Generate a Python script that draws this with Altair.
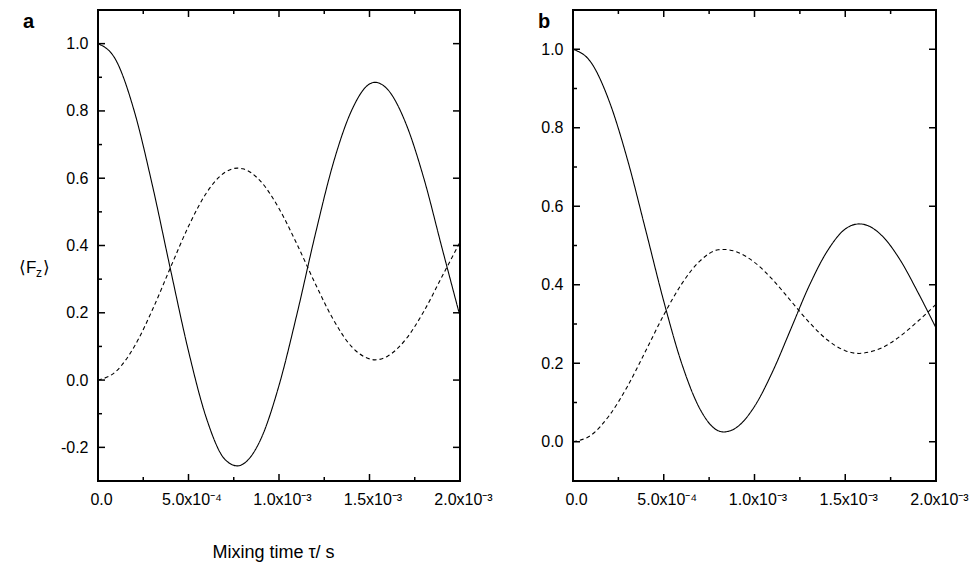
import altair as alt
import pandas as pd

# ---------------- data ----------------
t_a = [0, 1e-4, 2e-4, 3e-4, 4e-4, 5e-4, 6e-4, 7e-4, 7.7e-4, 8e-4, 9e-4, 1.0e-3,
       1.1e-3, 1.2e-3, 1.3e-3, 1.4e-3, 1.5e-3, 1.53e-3, 1.6e-3, 1.7e-3, 1.8e-3, 1.9e-3, 2.0e-3]
solid_a = [1.0, 0.95, 0.80, 0.58, 0.33, 0.086, -0.115, -0.235, -0.255, -0.25, -0.175, -0.016,
           0.198, 0.432, 0.645, 0.80, 0.88, 0.885, 0.864, 0.764, 0.60, 0.394, 0.19]
dashed_a = [0.0, 0.026, 0.099, 0.208, 0.334, 0.457, 0.557, 0.617, 0.63, 0.628, 0.59, 0.51,
            0.403, 0.287, 0.18, 0.10, 0.063, 0.06, 0.071, 0.121, 0.204, 0.307, 0.41]

t_b = [0, 1e-4, 2e-4, 3e-4, 4e-4, 5e-4, 6e-4, 7e-4, 8e-4, 8.3e-4, 9e-4, 1.0e-3,
       1.1e-3, 1.2e-3, 1.3e-3, 1.4e-3, 1.5e-3, 1.576e-3, 1.6e-3, 1.7e-3, 1.8e-3, 1.9e-3, 2.0e-3]
solid_b = [1.0, 0.966, 0.867, 0.719, 0.54, 0.358, 0.198, 0.083, 0.028, 0.025, 0.036, 0.09,
           0.179, 0.287, 0.396, 0.485, 0.542, 0.555, 0.554, 0.526, 0.465, 0.381, 0.29]
dashed_b = [0.0, 0.017, 0.067, 0.141, 0.231, 0.323, 0.403, 0.461, 0.489, 0.49, 0.484, 0.457,
            0.413, 0.359, 0.305, 0.26, 0.232, 0.225, 0.226, 0.239, 0.268, 0.307, 0.35]

x_major = [0, 5e-4, 1e-3, 1.5e-3, 2e-3]
x_minor = [2.5e-4, 7.5e-4, 1.25e-3, 1.75e-3]
x_labels = ["0.0", "5.0x10\u207b\u2074", "1.0x10\u207b\u00b3", "1.5x10\u207b\u00b3", "2.0x10\u207b\u00b3"]

ya_major = [-0.2, 0.0, 0.2, 0.4, 0.6, 0.8, 1.0]
ya_minor = [-0.1, 0.1, 0.3, 0.5, 0.7, 0.9]
yb_major = [0.0, 0.2, 0.4, 0.6, 0.8, 1.0]
yb_minor = [0.1, 0.3, 0.5, 0.7, 0.9]
ya_domain = [-0.3, 1.1]
yb_domain = [-0.1, 1.1]
x_domain = [0, 2e-3]

x_title = "Mixing time \u03c4/ s"
panel_letters = ["a", "b"]
ylab_parts = ["\u27e8F", "z", "\u27e9"]

FONT = "Liberation Sans"
W_A, W_B, H = 362, 363, 471
MAJ, MIN = 7, 4


def curves_df(t, s, d):
    return pd.concat([
        pd.DataFrame({"t": t, "v": s, "series": "solid"}),
        pd.DataFrame({"t": t, "v": d, "series": "dashed"}),
    ])


def panel(t, s, d, ydom, ymaj, ymin, W, letter, with_title, letter_dx):
    xs = alt.Scale(domain=x_domain, nice=False, zero=False)
    ys = alt.Scale(domain=ydom, nice=False, zero=False)
    lab_expr = "[" + ",".join("'%s'" % l for l in x_labels) + "][round(datum.value/0.0005)]"
    xaxis_kw = dict(values=x_major, labelExpr=lab_expr, ticks=False, domain=False, grid=False,
                    labelFont=FONT, labelFontSize=16, labelColor="black", labelPadding=10,
                    labelFlush=False, labelOverlap=False, labelOffset=3)
    if with_title:
        xaxis_kw.update(title=x_title, titleFont=FONT, titleFontSize=18, titleFontWeight="normal",
                        titleColor="black", titleX=175, titleY=76, titleBaseline="alphabetic",
                        titleAnchor="start", titleAlign="center")
    else:
        xaxis_kw.update(title=None)
    xaxis = alt.Axis(**xaxis_kw)
    yaxis = alt.Axis(values=ymaj, labelExpr="replace(format(datum.value, '.1f'), '\u2212', '-')",
                     ticks=False, domain=False, grid=False, title=None, labelFont=FONT,
                     labelFontSize=16, labelColor="black", labelPadding=10)
    X = alt.X("t:Q", scale=xs, axis=xaxis)
    Y = alt.Y("v:Q", scale=ys, axis=yaxis)

    lines = alt.Chart(curves_df(t, s, d)).mark_line(color="black", strokeWidth=1.1,
                                                    interpolate="monotone").encode(
        x=X, y=Y,
        strokeDash=alt.StrokeDash("series:N", legend=None,
                                  scale=alt.Scale(domain=["solid", "dashed"], range=[[1, 0], [4, 3]])),
    )
    xmaj = pd.DataFrame({"t": x_major})
    xmin = pd.DataFrame({"t": x_minor})
    ymj = pd.DataFrame({"v": ymaj})
    ymn = pd.DataFrame({"v": ymin})
    rule = dict(color="black", strokeWidth=1.5)
    layers = [
        lines,
        alt.Chart(xmaj).mark_rule(**rule).encode(x=X, y=alt.value(H), y2=alt.value(H - MAJ)),
        alt.Chart(xmin).mark_rule(**rule).encode(x=X, y=alt.value(H), y2=alt.value(H - MIN)),
        alt.Chart(xmaj).mark_rule(**rule).encode(x=X, y=alt.value(0), y2=alt.value(MAJ)),
        alt.Chart(xmin).mark_rule(**rule).encode(x=X, y=alt.value(0), y2=alt.value(MIN)),
        alt.Chart(ymj).mark_rule(**rule).encode(y=Y, x=alt.value(0), x2=alt.value(MAJ)),
        alt.Chart(ymn).mark_rule(**rule).encode(y=Y, x=alt.value(0), x2=alt.value(MIN)),
        alt.Chart(ymj).mark_rule(**rule).encode(y=Y, x=alt.value(W), x2=alt.value(W - MAJ)),
        alt.Chart(pd.DataFrame({"txt": [letter]})).mark_text(
            font=FONT, fontSize=20, fontWeight="bold", align="left", baseline="alphabetic",
            color="black").encode(text="txt:N", x=alt.value(letter_dx), y=alt.value(18)),
    ]
    if with_title:
        layers += [
            alt.Chart(pd.DataFrame({"txt": [ylab_parts[0]]})).mark_text(
                font=FONT, fontSize=17, align="left", baseline="alphabetic", color="black").encode(
                text="txt:N", x=alt.value(-79), y=alt.value(263)),
            alt.Chart(pd.DataFrame({"txt": [ylab_parts[1]]})).mark_text(
                font=FONT, fontSize=12, align="left", baseline="alphabetic", color="black").encode(
                text="txt:N", x=alt.value(-62), y=alt.value(267)),
            alt.Chart(pd.DataFrame({"txt": [ylab_parts[2]]})).mark_text(
                font=FONT, fontSize=17, align="left", baseline="alphabetic", color="black").encode(
                text="txt:N", x=alt.value(-55), y=alt.value(263)),
        ]
    return alt.layer(*layers).properties(width=W, height=H)


pa = panel(t_a, solid_a, dashed_a, ya_domain, ya_major, ya_minor, W_A, panel_letters[0], True, -75)
pb = panel(t_b, solid_b, dashed_b, yb_domain, yb_major, yb_minor, W_B, panel_letters[1], False, -35)

chart = alt.hconcat(pa, pb, spacing=113, bounds="flush").properties(
    padding={"left": 10, "top": 0, "right": 0, "bottom": 5},
    background="white",
).configure_view(stroke="black", strokeWidth=2)

chart.save("out.html", embed_options={"renderer": "svg", "actions": False})
